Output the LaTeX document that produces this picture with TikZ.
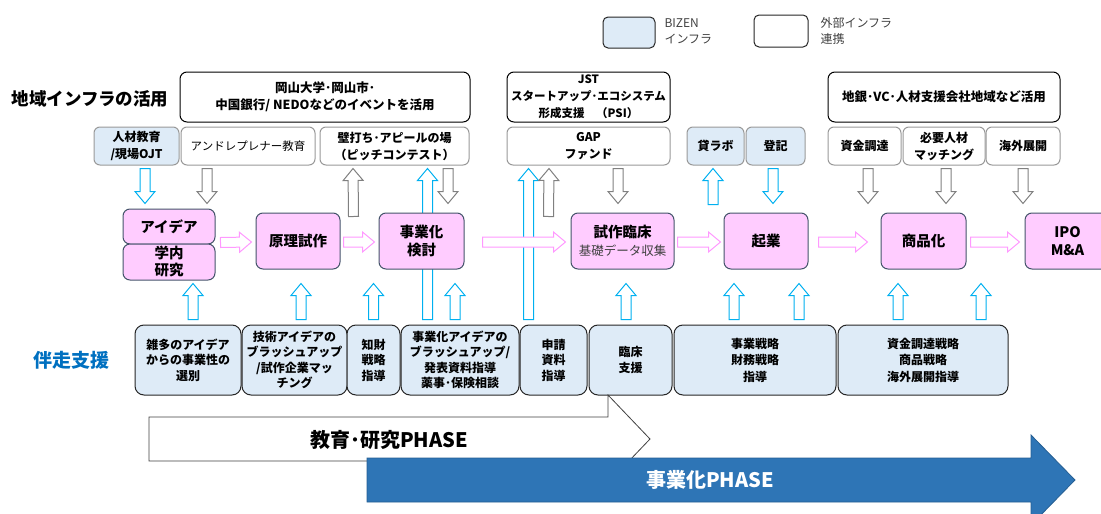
\documentclass[tikz,border=0pt]{standalone}
\usepackage{fontspec}
\setmainfont{Noto Sans CJK JP}
\usetikzlibrary{calc}
\definecolor{bizen}{RGB}{222,235,247}
\definecolor{pinkbox}{RGB}{255,204,255}
\definecolor{pinkline}{RGB}{255,153,255}
\definecolor{skyline}{RGB}{0,176,240}
\definecolor{slate}{RGB}{68,84,106}
\definecolor{phaseblue}{RGB}{46,117,182}
\definecolor{teamblue}{RGB}{0,112,192}
\pgfdeclarelayer{back}
\pgfsetlayers{back,main}
\newcommand\blkarrow[3][]{%
  \coordinate (ba) at (#2);
  \coordinate (bb) at (#3);
  \coordinate (bc) at ($(bb)!12pt!(ba)$);
  \draw[#1] ($(ba)!5pt!90:(bb)$) -- ($(bc)!5pt!90:(bb)$) -- ($(bc)!10pt!90:(bb)$) -- (bb)
    -- ($(bc)!10pt!-90:(bb)$) -- ($(bc)!5pt!-90:(bb)$) -- ($(ba)!5pt!-90:(bb)$) -- cycle;}
\begin{document}
\begin{tikzpicture}[x=1pt,y=-1pt,
  infra/.style={draw=black, line width=1pt, rounded corners=7pt, fill=white, inner sep=0pt, align=center, minimum height=50pt, font=\bfseries\fontsize{12.5}{17}\selectfont},
  tool/.style={draw=black!40, line width=1pt, rounded corners=6pt, fill=white, inner sep=0pt, align=center, minimum height=38pt, font=\bfseries\fontsize{12}{17}\selectfont},
  stage/.style={draw=slate, line width=1pt, rounded corners=7pt, fill=pinkbox, inner sep=0pt, align=center, minimum height=56pt, font=\bfseries\fontsize{14.5}{18}\selectfont},
  support/.style={draw=black!85, line width=1pt, rounded corners=9pt, fill=bizen, inner sep=0pt, align=center, minimum height=70pt, font=\bfseries\fontsize{12}{15.5}\selectfont},
  legend/.style={draw=black!85, line width=1pt, rounded corners=5pt, inner sep=0pt},
  pinkarr/.style={draw=pinkline, fill=white, line width=1pt},
  bluearr/.style={draw=skyline, fill=white, line width=1pt},
  grayarr/.style={draw=black!50, fill=white, line width=1pt}]
\useasboundingbox (0,0) rectangle (1101,514);

\node[legend, fill=bizen, minimum width=52pt, minimum height=31pt] (keybizen) at (629,32.5) {};
\node[anchor=west, align=left, text=black!75, font=\fontsize{12}{16}\selectfont] (keybizentext) at (661,31) {BIZEN\\インフラ};
\node[legend, fill=white, minimum width=54pt, minimum height=32pt] (keyext) at (781,31) {};
\node[anchor=west, align=left, text=black!75, font=\fontsize{12}{16}\selectfont] (keyexttext) at (817,31) {外部インフラ\\連携};

\node[font=\bfseries\fontsize{17.5}{20}\selectfont] (title) at (90,99) {地域インフラの活用};
\node[text=teamblue, font=\bfseries\fontsize{19}{22}\selectfont] (bansou) at (72,360) {伴走支援};

\node[infra, minimum width=290pt] (okayama) at (325,97) {岡山大学･岡山市･\\中国銀行/ NEDOなどのイベントを活用};
\node[infra, minimum width=163pt, font=\bfseries\fontsize{11.5}{17}\selectfont] (jst) at (588.5,97) {JST\\スタートアップ･エコシステム\\形成支援　（PSI）};
\node[infra, minimum width=232pt] (chigin) at (944,97) {地銀･VC･人材支援会社地域など活用};

\node[tool, fill=bizen, minimum width=85pt] (jinzai) at (136.5,146) {人材教育\\/現場OJT};
\node[tool, minimum width=134pt, font=\fontsize{11.5}{17}\selectfont] (andre) at (248,146) {アンドレプレナー教育};
\node[tool, minimum width=149pt] (kabe) at (394.5,146) {壁打ち･アピールの場\\（ピッチコンテスト）};
\node[tool, minimum width=163pt] (gap) at (588.5,146) {GAP\\ファンド};
\node[tool, fill=bizen, minimum width=57pt] (kashi) at (715.5,146) {貸ラボ};
\node[tool, fill=bizen, minimum width=59pt] (toki) at (775.5,146) {登記};
\node[tool, minimum width=73pt] (shikin) at (864.5,146) {資金調達};
\node[tool, minimum width=82pt] (hitsuyo) at (944,146) {必要人材\\マッチング};
\node[tool, minimum width=74pt] (kaigai) at (1023,146) {海外展開};

\node[stage, minimum width=92pt, minimum height=35pt] (idea) at (169,226.5) {アイデア};
\node[stage, minimum width=92pt, minimum height=36pt, font=\bfseries\fontsize{14.5}{17}\selectfont] (gakunai) at (169,262) {学内\\研究};
\node[stage, minimum width=84pt] (genri) at (298,241) {原理試作};
\node[stage, minimum width=85pt] (jigyo) at (421.5,241) {事業化\\検討};
\node[stage, minimum width=103pt] (shisaku) at (622.5,241) {試作臨床\\{\mdseries\fontsize{12.5}{18}\selectfont\color{black!75}基礎データ収集}};
\node[stage, minimum width=84pt] (kigyo) at (766,241) {起業};
\node[stage, minimum width=85pt] (shohin) at (923.5,241) {商品化};
\node[stage, minimum width=85pt] (ipo) at (1067.5,241) {IPO\\M\&A};

\node[support, minimum width=106pt] (zatta) at (188,360) {雑多のアイデア\\からの事業性の\\選別};
\node[support, minimum width=105pt] (gijutsu) at (294.5,360) {技術アイデアの\\ブラッシュアップ\\/試作企業マッ\\チング};
\node[support, minimum width=53pt] (chizai) at (373.5,360) {知財\\戦略\\指導};
\node[support, minimum width=118pt] (jigyoka) at (460,360) {事業化アイデアの\\ブラッシュアップ/\\発表資料指導\\薬事･保険相談};
\node[support, minimum width=67pt] (shinsei) at (553.5,360) {申請\\資料\\指導};
\node[support, minimum width=83pt] (rinsho) at (630.5,360) {臨床\\支援};
\node[support, minimum width=162pt, font=\bfseries\fontsize{12}{16.5}\selectfont] (senryaku) at (755,360) {事業戦略\\財務戦略\\指導};
\node[support, minimum width=170pt, font=\bfseries\fontsize{12}{16.5}\selectfont] (shikinsen) at (923,360) {資金調達戦略\\商品戦略\\海外展開指導};

\begin{pgfonlayer}{back}
\blkarrow[bluearr]{$(jigyoka.north)+(-32.5,-5)$}{$(kabe.south)+(33,3)$}
\blkarrow[bluearr]{$(shinsei.north)+(-25,-5)$}{$(gap.south)+(-60,3)$}
\end{pgfonlayer}

\blkarrow[bluearr]{$(jinzai.south)+(8.5,3)$}{$(idea.north)+(-24,-5)$}
\blkarrow[grayarr]{$(andre.south)+(-41,3)$}{$(idea.north)+(38,-5)$}
\blkarrow[grayarr]{$(kabe.south)+(53.5,3)$}{$(jigyo.north)+(26.5,-9)$}
\blkarrow[grayarr]{$(gap.south)+(29.5,3)$}{$(shisaku.north)+(-4.5,-9)$}
\blkarrow[bluearr]{$(toki.south)+(-2.5,3)$}{$(kigyo.north)+(7,-9)$}
\blkarrow[grayarr]{$(shikin.south)+(3.5,3)$}{$(shohin.north)+(-55.5,-9)$}
\blkarrow[grayarr]{$(hitsuyo.south)+(2,3)$}{$(shohin.north)+(22.5,-9)$}
\blkarrow[grayarr]{$(kaigai.south)+(0,3)$}{$(ipo.north)+(-44.5,-9)$}

\blkarrow[grayarr]{$(genri.north east)+(13,4)$}{$(kabe.south)+(-41.5,3)$}
\blkarrow[grayarr]{$(shisaku.north west)+(-22,4)$}{$(gap.south)+(-39.5,3)$}
\blkarrow[bluearr]{$(kigyo.north)+(-53,-8)$}{$(kashi.south)+(-2.5,3)$}

\blkarrow[bluearr]{$(zatta.north)+(5,-5)$}{$(gakunai.south)+(24,3)$}
\blkarrow[bluearr]{$(gijutsu.north)+(6.5,-5)$}{$(genri.south)+(3,14)$}
\blkarrow[bluearr]{$(chizai.north)+(0,-5)$}{$(jigyo.south)+(-48,14)$}
\blkarrow[bluearr]{$(jigyoka.north)+(-5,-5)$}{$(jigyo.south)+(33.5,14)$}
\blkarrow[bluearr]{$(rinsho.north)+(-4.5,-5)$}{$(shisaku.south)+(3.5,14)$}
\blkarrow[bluearr]{$(senryaku.north)+(-21,-5)$}{$(kigyo.south)+(-32,14)$}
\blkarrow[bluearr]{$(senryaku.north)+(44,-5)$}{$(kigyo.south)+(33,14)$}
\blkarrow[bluearr]{$(shikinsen.north)+(-25,-5)$}{$(shohin.south)+(-25.5,14)$}
\blkarrow[bluearr]{$(shikinsen.north)+(58,-5)$}{$(shohin.south)+(57.5,14)$}

\blkarrow[pinkarr]{$(idea.south east)+(5,-2)$}{$(genri.west)+(-4,1)$}
\blkarrow[pinkarr]{$(genri.east)+(3,1)$}{$(jigyo.west)+(-4,1)$}
\blkarrow[pinkarr]{$(jigyo.east)+(18,1)$}{$(shisaku.west)+(-5,1)$}
\blkarrow[pinkarr]{$(shisaku.east)+(3,1)$}{$(kigyo.west)+(-3,1)$}
\blkarrow[pinkarr]{$(kigyo.east)+(10,1)$}{$(shohin.west)+(-13,1)$}
\blkarrow[pinkarr]{$(shohin.east)+(4,1)$}{$(ipo.west)+(-5,1)$}

\draw[fill=white, draw=black!75, line width=0.8pt] (149,417) -- (608,417) -- (608,395) -- (650,439) -- (608,483) -- (608,461) -- (149,461) -- cycle;
\node[font=\bfseries\fontsize{20}{24}\selectfont] (edu) at (389,440) {教育･研究PHASE};
\draw[fill=phaseblue, draw=phaseblue!80!black, line width=0.8pt] (367,458) -- (1031,458) -- (1031,435) -- (1075,480) -- (1031,525) -- (1031,502) -- (367,502) -- cycle;
\node[text=white, font=\bfseries\fontsize{20}{24}\selectfont] (biz) at (710,480) {事業化PHASE};
\end{tikzpicture}
\end{document}
